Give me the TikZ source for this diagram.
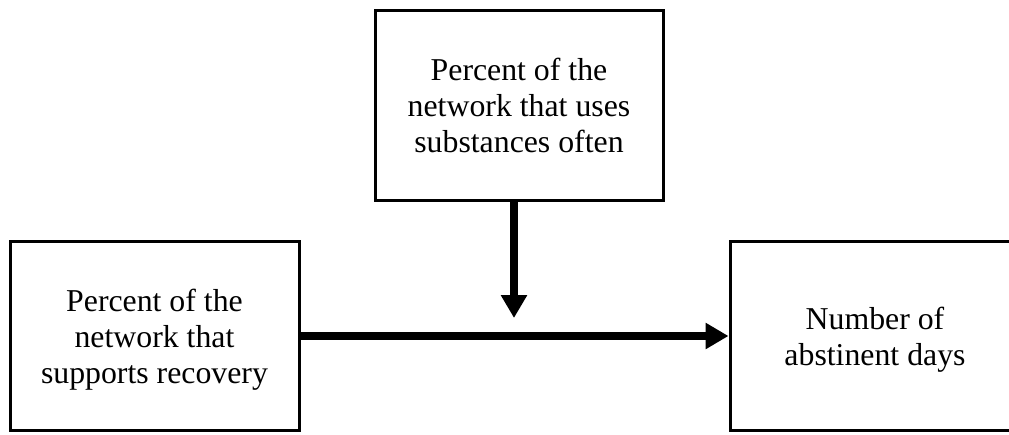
\documentclass[tikz,border=0pt]{standalone}
\usepackage{fontspec}
\setmainfont{Liberation Serif}
\usetikzlibrary{arrows.meta}
\begin{document}
\begin{tikzpicture}[x=1pt,y=-1pt,
  box/.style={draw=black, line width=3pt, fill=white, inner sep=0pt,
    align=center, text depth=0pt, font=\fontsize{31.8}{36}\selectfont},
  conn/.style={line width=7.5pt, -{Triangle[width=25pt,length=23pt]}}]
\useasboundingbox (0,0) rectangle (1009,434);
\clip (0,0) rectangle (1009,434);
\node[box, minimum width=289pt, minimum height=189pt] (left) at (154.5,336)
  {Percent of the\\network that\\supports recovery};
\node[box, minimum width=288pt, minimum height=190pt] (top) at (519,105)
  {Percent of the\\network that uses\\substances often};
\node[box, minimum width=290pt, minimum height=189pt] (right) at (875,336)
  {Number of\\abstinent days};
\coordinate (v) at (514,318);
\draw[conn] (left.east) -- (right.west);
\draw[conn] (top.south -| v) -- (v);
\end{tikzpicture}
\end{document}
